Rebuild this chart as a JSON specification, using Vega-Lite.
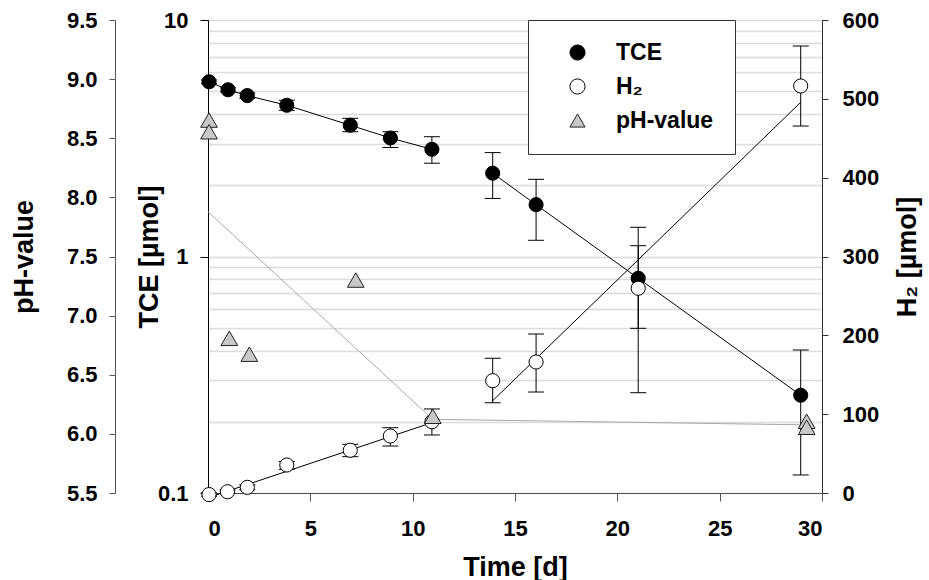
{
  "$schema": "https://vega.github.io/schema/vega-lite/v6.json",
  "width": 614,
  "height": 473,
  "autosize": {"type": "none"},
  "padding": {"left": 208, "top": 20, "right": 107, "bottom": 87},
  "background": "white",
  "config": {
    "view": {"stroke": "#333", "strokeWidth": 1},
    "font": "Liberation Sans",
    "axis": {
      "labelFont": "Liberation Sans", "labelFontSize": 22, "labelFontWeight": "bold", "labelColor": "black",
      "titleFont": "Liberation Sans", "titleFontSize": 27, "titleFontWeight": "bold", "titleColor": "black",
      "domainColor": "#333", "tickColor": "#333", "grid": false
    },
    "legend": {
      "orient": "none", "legendX": 320, "legendY": 0, "direction": "vertical",
      "strokeColor": "#333", "fillColor": "white", "padding": 21, "rowPadding": 10,
      "labelFont": "Liberation Sans", "labelFontSize": 23, "labelFontWeight": "bold", "labelColor": "black",
      "symbolOffset": 17, "labelOffset": 27, "symbolSize": 230, "symbolStrokeWidth": 1
    }
  },
  "datasets": {
    "tce": [
      {"t": 0.05, "v": 5.48, "lo": 5.38, "hi": 5.58, "seg": 1, "series": "TCE"},
      {"t": 0.98, "v": 5.07, "lo": 4.97, "hi": 5.17, "seg": 1, "series": "TCE"},
      {"t": 1.92, "v": 4.79, "lo": 4.67, "hi": 4.91, "seg": 1, "series": "TCE"},
      {"t": 3.85, "v": 4.36, "lo": 4.15, "hi": 4.58, "seg": 1, "series": "TCE"},
      {"t": 6.95, "v": 3.59, "lo": 3.37, "hi": 3.84, "seg": 1, "series": "TCE"},
      {"t": 8.91, "v": 3.17, "lo": 2.89, "hi": 3.37, "seg": 1, "series": "TCE"},
      {"t": 10.94, "v": 2.84, "lo": 2.48, "hi": 3.21, "seg": 1, "series": "TCE"},
      {"t": 13.91, "v": 2.25, "lo": 1.76, "hi": 2.75, "seg": 2, "series": "TCE"},
      {"t": 16.03, "v": 1.656, "lo": 1.171, "hi": 2.12, "seg": 2, "series": "TCE"},
      {"t": 21.02, "v": 0.809, "lo": 0.2655, "hi": 1.329, "seg": 2, "series": "TCE"},
      {"t": 28.96, "v": 0.259, "lo": 0.1192, "hi": 0.4024, "seg": 2, "series": "TCE"}
    ],
    "h2": [
      {"t": 0.05, "v": -2, "lo": -4, "hi": 0, "series": "H₂"},
      {"t": 0.95, "v": 1.6, "lo": -0.5, "hi": 3.7, "series": "H₂"},
      {"t": 1.92, "v": 7.2, "lo": 4, "hi": 10.4, "series": "H₂"},
      {"t": 3.85, "v": 35.5, "lo": 30, "hi": 40, "series": "H₂"},
      {"t": 6.95, "v": 54.2, "lo": 46.1, "hi": 61.8, "series": "H₂"},
      {"t": 8.91, "v": 72.3, "lo": 59.6, "hi": 82.8, "series": "H₂"},
      {"t": 10.94, "v": 90.4, "lo": 73.6, "hi": 106.6, "series": "H₂"},
      {"t": 13.91, "v": 142.5, "lo": 114.5, "hi": 170.9, "series": "H₂"},
      {"t": 16.03, "v": 166.2, "lo": 128.1, "hi": 201.7, "series": "H₂"},
      {"t": 21.02, "v": 259.7, "lo": 208.9, "hi": 313.7, "series": "H₂"},
      {"t": 28.96, "v": 516.3, "lo": 465.5, "hi": 567, "series": "H₂"}
    ],
    "h2fit": [
      {"t": 0.05, "v": -5.5, "seg": 1},
      {"t": 10.95, "v": 89.3, "seg": 1},
      {"t": 13.86, "v": 115.8, "seg": 2},
      {"t": 28.96, "v": 495.6, "seg": 2}
    ],
    "ph": [
      {"t": 0.05, "v": 8.654, "series": "pH-value"},
      {"t": 0.05, "v": 8.555, "series": "pH-value"},
      {"t": 1.04, "v": 6.808, "series": "pH-value"},
      {"t": 2.02, "v": 6.674, "series": "pH-value"},
      {"t": 7.22, "v": 7.301, "series": "pH-value"},
      {"t": 10.98, "v": 6.149, "series": "pH-value"},
      {"t": 29.25, "v": 6.107, "series": "pH-value"},
      {"t": 29.25, "v": 6.056, "series": "pH-value"}
    ],
    "phline": [
      {"t": 0, "v": 7.879},
      {"t": 10.98, "v": 6.123},
      {"t": 29.6, "v": 6.075}
    ]
  },
  "encoding": {
    "x": {
      "field": "t", "type": "quantitative",
      "scale": {"domain": [0, 30], "nice": false, "zero": false},
      "axis": {"title": "Time [d]", "values": [0, 5, 10, 15, 20, 25, 30], "tickSize": 8, "labelPadding": 17, "titlePadding": 15, "domainColor": "#555", "tickColor": "#555"}
    }
  },
  "layer": [
    {
      "data": {"name": "tce"},
      "mark": {"type": "rule", "color": "black", "strokeWidth": 1},
      "encoding": {
        "y": {
          "field": "lo", "type": "quantitative",
          "scale": {"type": "log", "domain": [0.1, 10], "nice": false},
          "axis": {
            "orient": "left", "title": "TCE [µmol]",
            "values": [0.1, 0.2, 0.3, 0.4, 0.5, 0.6, 0.7, 0.8, 0.9, 1, 2, 3, 4, 5, 6, 7, 8, 9, 10],
            "labelExpr": "datum.value == 0.1 ? '0.1' : (datum.value == 1 ? '1' : (datum.value == 10 ? '10' : ''))",
            "labelOverlap": false,
            "grid": true, "gridColor": "#dcdcdc", "gridWidth": 1.5,
            "tickOpacity": {"condition": {"test": "datum.value == 0.1 || datum.value == 1 || datum.value == 10", "value": 1}, "value": 0},
            "tickSize": 8, "labelPadding": 12, "titlePadding": -6,
            "domainColor": "black", "tickColor": "black"
          }
        },
        "y2": {"field": "hi"}
      }
    },
    {
      "data": {"name": "phline"},
      "mark": {"type": "line", "color": "#a8a8a8", "strokeWidth": 1},
      "encoding": {
        "y": {
          "field": "v", "type": "quantitative",
          "scale": {"domain": [5.5, 9.5], "nice": false, "zero": false},
          "axis": {
            "orient": "left", "offset": 93, "title": "pH-value",
            "values": [5.5, 6, 6.5, 7, 7.5, 8, 8.5, 9, 9.5], "format": ".1f",
            "tickSize": 6, "labelPadding": 12, "titlePadding": 28,
            "domainColor": "#555", "tickColor": "#555"
          }
        }
      }
    },
    {
      "data": {"name": "tce"},
      "mark": {"type": "tick", "orient": "horizontal", "size": 16, "thickness": 1, "color": "black", "opacity": 1},
      "encoding": {"y": {"field": "lo", "type": "quantitative", "scale": {"type": "log", "domain": [0.1, 10], "nice": false}, "axis": null}}
    },
    {
      "data": {"name": "tce"},
      "mark": {"type": "tick", "orient": "horizontal", "size": 16, "thickness": 1, "color": "black", "opacity": 1},
      "encoding": {"y": {"field": "hi", "type": "quantitative", "scale": {"type": "log", "domain": [0.1, 10], "nice": false}, "axis": null}}
    },
    {
      "data": {"name": "tce"},
      "mark": {"type": "line", "color": "black", "strokeWidth": 1},
      "encoding": {
        "y": {"field": "v", "type": "quantitative", "scale": {"type": "log", "domain": [0.1, 10], "nice": false}, "axis": null},
        "detail": {"field": "seg", "type": "nominal"}
      }
    },
    {
      "data": {"name": "tce"},
      "mark": {"type": "point", "filled": true, "strokeWidth": 1, "size": 200, "opacity": 1},
      "encoding": {
        "y": {"field": "v", "type": "quantitative", "scale": {"type": "log", "domain": [0.1, 10], "nice": false}, "axis": null},
        "fill": {"field": "series", "type": "nominal", "title": null, "scale": {"domain": ["TCE", "H₂", "pH-value"], "range": ["black", "white", "#c8c8c8"]}},
        "stroke": {"field": "series", "type": "nominal", "title": null, "scale": {"domain": ["TCE", "H₂", "pH-value"], "range": ["black", "black", "#222222"]}},
        "shape": {"field": "series", "type": "nominal", "title": null, "scale": {"domain": ["TCE", "H₂", "pH-value"], "range": ["circle", "circle", "triangle-up"]}}
      }
    },
    {
      "data": {"name": "h2"},
      "mark": {"type": "rule", "color": "black", "strokeWidth": 1},
      "encoding": {
        "y": {
          "field": "lo", "type": "quantitative",
          "scale": {"domain": [0, 600], "nice": false},
          "axis": {
            "orient": "right", "title": "H₂ [µmol]",
            "values": [0, 100, 200, 300, 400, 500, 600],
            "tickSize": 6, "labelPadding": 14, "titlePadding": 16,
            "titleAngle": 270, "titleBaseline": "top"
          }
        },
        "y2": {"field": "hi"}
      }
    },
    {
      "data": {"name": "h2"},
      "mark": {"type": "tick", "orient": "horizontal", "size": 16, "thickness": 1, "color": "black", "opacity": 1},
      "encoding": {"y": {"field": "lo", "type": "quantitative", "scale": {"domain": [0, 600], "nice": false}, "axis": null}}
    },
    {
      "data": {"name": "h2"},
      "mark": {"type": "tick", "orient": "horizontal", "size": 16, "thickness": 1, "color": "black", "opacity": 1},
      "encoding": {"y": {"field": "hi", "type": "quantitative", "scale": {"domain": [0, 600], "nice": false}, "axis": null}}
    },
    {
      "data": {"name": "h2fit"},
      "mark": {"type": "line", "color": "black", "strokeWidth": 1},
      "encoding": {
        "y": {"field": "v", "type": "quantitative", "scale": {"domain": [0, 600], "nice": false}, "axis": null},
        "detail": {"field": "seg", "type": "nominal"}
      }
    },
    {
      "data": {"name": "h2"},
      "mark": {"type": "point", "filled": true, "strokeWidth": 1, "size": 200, "opacity": 1},
      "encoding": {
        "y": {"field": "v", "type": "quantitative", "scale": {"domain": [0, 600], "nice": false}, "axis": null},
        "fill": {"field": "series", "type": "nominal", "title": null, "scale": {"domain": ["TCE", "H₂", "pH-value"], "range": ["black", "white", "#c8c8c8"]}},
        "stroke": {"field": "series", "type": "nominal", "title": null, "scale": {"domain": ["TCE", "H₂", "pH-value"], "range": ["black", "black", "#222222"]}},
        "shape": {"field": "series", "type": "nominal", "title": null, "scale": {"domain": ["TCE", "H₂", "pH-value"], "range": ["circle", "circle", "triangle-up"]}}
      }
    },
    {
      "data": {"name": "ph"},
      "mark": {"type": "point", "filled": true, "strokeWidth": 1, "size": 280, "opacity": 1},
      "encoding": {
        "y": {"field": "v", "type": "quantitative", "scale": {"domain": [5.5, 9.5], "nice": false, "zero": false}, "axis": null},
        "fill": {"field": "series", "type": "nominal", "title": null, "scale": {"domain": ["TCE", "H₂", "pH-value"], "range": ["black", "white", "#c8c8c8"]}},
        "stroke": {"field": "series", "type": "nominal", "title": null, "scale": {"domain": ["TCE", "H₂", "pH-value"], "range": ["black", "black", "#222222"]}},
        "shape": {"field": "series", "type": "nominal", "title": null, "scale": {"domain": ["TCE", "H₂", "pH-value"], "range": ["circle", "circle", "triangle-up"]}}
      }
    }
  ],
  "resolve": {"scale": {"y": "independent"}, "axis": {"y": "independent"}}
}
